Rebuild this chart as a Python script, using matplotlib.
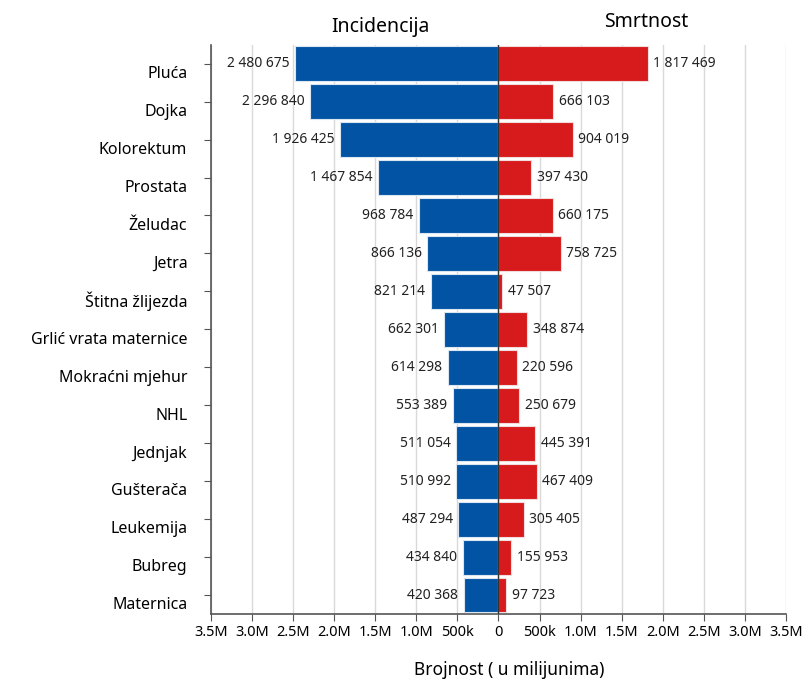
import matplotlib
matplotlib.use("Agg")
import matplotlib.pyplot as plt
from matplotlib.ticker import FuncFormatter
import matplotlib.transforms as mtransforms
import numpy as np

plt.rcParams['font.family'] = ['Noto Sans', 'DejaVu Sans']

sijela = ["Pluća", "Dojka", "Kolorektum", "Prostata", "Želudac", "Jetra",
          "Štitna žlijezda", "Grlić vrata maternice", "Mokraćni mjehur", "NHL",
          "Jednjak", "Gušterača", "Leukemija", "Bubreg", "Maternica"]
incidencija = [2480675, 2296840, 1926425, 1467854, 968784, 866136, 821214,
               662301, 614298, 553389, 511054, 510992, 487294, 434840, 420368]
smrtnost = [1817469, 666103, 904019, 397430, 660175, 758725, 47507,
            348874, 220596, 250679, 445391, 467409, 305405, 155953, 97723]
ticks = [-3.5e6, -3e6, -2.5e6, -2e6, -1.5e6, -1e6, -5e5, 0,
         5e5, 1e6, 1.5e6, 2e6, 2.5e6, 3e6, 3.5e6]

plava = "#0353a4"
crvena = "#d71a1b"

def fmt_broj(v):
    return f"{v:,}".replace(",", " ")

def fmt_os(x, pos):
    x = abs(x)
    if x == 0:
        return "0"
    if x < 1e6:
        return f"{x/1e3:.0f}k"
    return f"{x/1e6:.1f}M"

fig = plt.figure(figsize=(8.02, 6.81), dpi=100)
ax = fig.add_axes([0.263, 0.0984, 0.717, 0.836])

y = np.arange(len(sijela))
inc = -np.array(incidencija)
smr = np.array(smrtnost)

ax.barh(y, inc, height=0.92, color=plava, edgecolor="#dce6f0", linewidth=0.8, zorder=3)
ax.barh(y, smr, height=0.92, color=crvena, edgecolor="#f0dcdc", linewidth=0.8, zorder=3)
ax.axvline(0, color="#333333", linewidth=1.0, zorder=4)

for yi, v in zip(y, incidencija):
    ax.annotate(fmt_broj(v), (-v, yi), xytext=(-4, 0), textcoords="offset points",
                ha="right", va="center", fontsize=10, color="#222222")
for yi, v in zip(y, smrtnost):
    ax.annotate(fmt_broj(v), (v, yi), xytext=(4, 0), textcoords="offset points",
                ha="left", va="center", fontsize=10, color="#222222")

ax.set_ylim(len(sijela) - 0.5, -0.5)
ax.set_xlim(-3.5e6, 3.5e6)
ax.set_xticks(ticks)
ax.xaxis.set_major_formatter(FuncFormatter(fmt_os))
ax.set_yticks(y)
ax.set_yticklabels(sijela, fontsize=11.5)
ax.tick_params(axis="y", length=5, pad=12, color="#555555")
ax.tick_params(axis="x", length=5, pad=3, labelsize=10.5, color="#555555")
# labels sit slightly below their tick marks
shift = mtransforms.ScaledTranslation(0, -6 / 72, fig.dpi_scale_trans)
for lbl in ax.get_yticklabels():
    lbl.set_transform(lbl.get_transform() + shift)

ax.grid(axis="x", color="#d9d9d9", linewidth=1.0, zorder=0)
ax.set_axisbelow(True)
for s in ["top", "right"]:
    ax.spines[s].set_visible(False)
ax.spines["left"].set_color("#555555")
ax.spines["bottom"].set_color("#555555")
ax.spines["left"].set_linewidth(1.2)
ax.spines["bottom"].set_linewidth(1.2)

fig.text(380 / 802, 1 - 27 / 681, "Incidencija", ha="center", va="center", fontsize=14)
fig.text(646 / 802, 1 - 22 / 681, "Smrtnost", ha="center", va="center", fontsize=14)
fig.text(509 / 802, 1 - 670 / 681, "Brojnost ( u milijunima)", ha="center", va="center", fontsize=12.5)

fig.savefig("out.png", dpi=100, facecolor="white")
